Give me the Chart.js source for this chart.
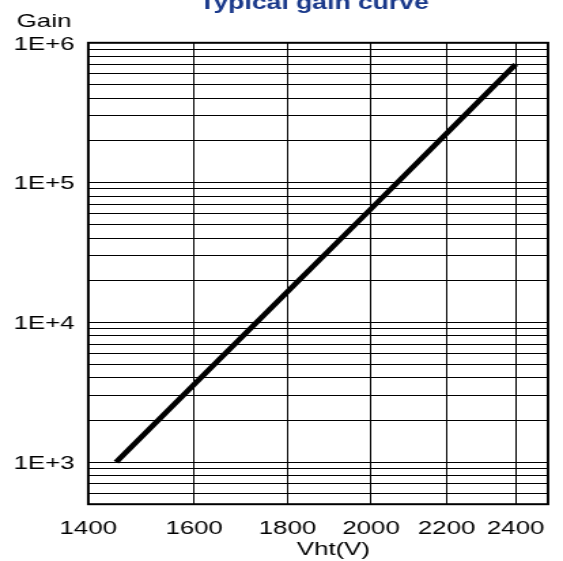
<!DOCTYPE html>
<html>
<head>
<meta charset="utf-8">
<script src="https://cdn.jsdelivr.net/npm/chart.js@4/dist/chart.umd.min.js"></script>
<style>
  html, body { margin: 0; padding: 0; background: #fff; overflow: hidden; }
  #wrap { position: absolute; left: 0; top: 0; width: 414px; height: 561px;
          transform: scale(1.35990, 1); transform-origin: 0 0; }
</style>
</head>
<body>
<div id="wrap"><canvas id="c" width="414" height="561"></canvas></div>
<script>
// ---- data ----
const voltages = [1450, 1600, 1800, 2000, 2200, 2400];
const gains    = [1000, 3600, 16600, 65000, 225000, 700000];

// ---- axis ticks ----
const xTickValues = [1400, 1600, 1800, 2000, 2200, 2400];
const xTickLabels = ['1400', '1600', '1800', '2000', '2200', '2400'];
const yLabelValues = [1e3, 1e4, 1e5, 1e6];
const yTickLabels  = ['1E+3', '1E+4', '1E+5', '1E+6'];
const yGridValues = [500, 600, 700, 800, 900,
  1000, 2000, 3000, 4000, 5000, 6000, 7000, 8000, 9000,
  10000, 20000, 30000, 40000, 50000, 60000, 70000, 80000, 90000,
  100000, 200000, 300000, 400000, 500000, 600000, 700000, 800000, 900000,
  1000000];

const titleText = 'Typical gain curve';
const yAxisText = 'Gain';
const xAxisText = 'Vht(V)';

const FONT = '"Liberation Sans", Arial, sans-serif';

const textPlugin = {
  id: 'frameAndText',
  afterDraw(chart) {
    const ctx = chart.ctx;
    const a = chart.chartArea;
    ctx.save();
    ctx.strokeStyle = '#000';
    ctx.lineWidth = 2;
    ctx.strokeRect(a.left, a.top, a.right - a.left, a.bottom - a.top);

    ctx.fillStyle = '#19388a';
    ctx.font = 'bold 19.5px ' + FONT;
    ctx.textAlign = 'center';
    ctx.textBaseline = 'alphabetic';
    ctx.fillText(titleText, 230.9, 9.3);

    ctx.fillStyle = '#000';
    ctx.font = '19px ' + FONT;
    ctx.textBaseline = 'middle';
    ctx.fillText(yAxisText, 32.4, 21.7);
    ctx.fillText(xAxisText, 245.2, 549.7);
    ctx.restore();
  }
};

new Chart(document.getElementById('c'), {
  type: 'line',
  data: {
    datasets: [{
      data: voltages.map((v, i) => ({ x: v, y: gains[i] })),
      borderColor: '#000',
      borderWidth: 4.5,
      pointRadius: 0,
      tension: 0,
      fill: false
    }]
  },
  options: {
    responsive: false,
    animation: false,
    devicePixelRatio: 1,
    layout: { padding: { top: 42.8, right: 10.15, left: 0, bottom: 0 } },
    plugins: { legend: { display: false }, title: { display: false }, tooltip: { enabled: false } },
    scales: {
      x: {
        type: 'logarithmic',
        min: 1400, max: 2500,
        afterBuildTicks: (s) => { s.ticks = xTickValues.map(v => ({ value: v })); },
        afterFit: (s) => { s.height = 561 - 504.2; },
        grid: { color: '#000', lineWidth: 1, drawTicks: false, tickLength: 0 },
        border: { display: false },
        ticks: {
          autoSkip: false, maxRotation: 0, minRotation: 0,
          padding: 13,
          color: '#000',
          font: { family: FONT, size: 19 },
          callback: (v, i) => xTickLabels[i]
        }
      },
      y: {
        type: 'logarithmic',
        min: 500, max: 1000000,
        afterBuildTicks: (s) => { s.ticks = yGridValues.map(v => ({ value: v })); },
        afterFit: (s) => { s.width = 64.93; },
        grid: { color: '#000', lineWidth: 1, drawTicks: false, tickLength: 0 },
        border: { display: false },
        ticks: {
          autoSkip: false,
          padding: 10,
          labelOffset: 1.5,
          color: '#000',
          font: { family: FONT, size: 19 },
          callback: (v) => {
            const k = yLabelValues.findIndex(t => Math.abs(t - v) < 1e-6 * t);
            return k >= 0 ? yTickLabels[k] : '';
          }
        }
      }
    }
  },
  plugins: [textPlugin]
});
</script>
</body>
</html>
